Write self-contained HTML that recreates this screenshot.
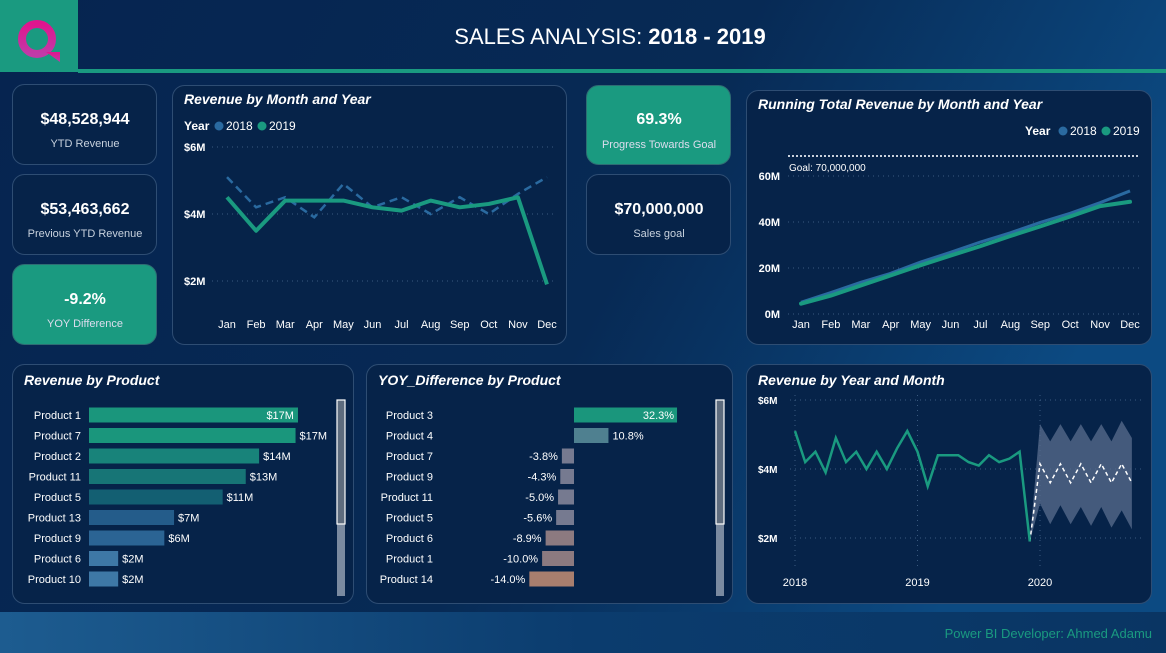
<!DOCTYPE html>
<html><head><meta charset="utf-8"><style>
html,body{margin:0;padding:0;width:1166px;height:653px;overflow:hidden;background:#082a52;font-family:"Liberation Sans",sans-serif}
svg text{font-family:"Liberation Sans",sans-serif}
</style></head><body>
<svg id="s" width="1166" height="653" viewBox="0 0 1166 653" xmlns="http://www.w3.org/2000/svg">
<defs>
<linearGradient id="bg" x1="0" y1="0" x2="1" y2="0.3"><stop offset="0" stop-color="#062450"/><stop offset="0.6" stop-color="#072a55"/><stop offset="1" stop-color="#0c4a82"/></linearGradient>
<linearGradient id="foot" x1="0" y1="0" x2="1" y2="0"><stop offset="0" stop-color="#1d5c90"/><stop offset="0.5" stop-color="#0b3c6e"/><stop offset="1" stop-color="#0a3563"/></linearGradient>
<linearGradient id="q" x1="0" y1="0" x2="0" y2="1"><stop offset="0" stop-color="#e0158e"/><stop offset="1" stop-color="#c03aa8"/></linearGradient>
</defs>
<rect width="1166" height="653" fill="url(#bg)"/>
<rect x="0" y="612" width="1166" height="41" fill="url(#foot)"/>
<text x="1152" y="638" text-anchor="end" font-size="13" fill="#1a9a80">Power BI Developer: Ahmed Adamu</text>
<rect x="0" y="0" width="78" height="72" fill="#1a9a80"/>
<g><circle cx="37" cy="39" r="15" fill="none" stroke="url(#q)" stroke-width="8"/><path d="M46 52 L60 52 L60 62 Z" fill="url(#q)"/></g>
<rect x="78" y="69" width="1088" height="4" fill="#1a9a80"/>
<text x="610" y="44" text-anchor="middle" font-size="22" fill="#fff">SALES ANALYSIS: <tspan font-weight="bold">2018 - 2019</tspan></text>

<g><rect x="12.5" y="84.5" width="144" height="80" rx="12" fill="#062349" stroke="#2e4d73"/><text x="85" y="124" text-anchor="middle" font-size="16" font-weight="bold" fill="#fff">$48,528,944</text><text x="85" y="147" text-anchor="middle" font-size="11" fill="#c8d2de">YTD Revenue</text></g>
<g><rect x="12.5" y="174.5" width="144" height="80" rx="12" fill="#062349" stroke="#2e4d73"/><text x="85" y="214" text-anchor="middle" font-size="16" font-weight="bold" fill="#fff">$53,463,662</text><text x="85" y="237" text-anchor="middle" font-size="11" fill="#c8d2de">Previous YTD Revenue</text></g>
<g><rect x="12.5" y="264.5" width="144" height="80" rx="12" fill="#1a9a80" stroke="#2e6d73"/><text x="85" y="304" text-anchor="middle" font-size="16" font-weight="bold" fill="#fff">-9.2%</text><text x="85" y="327" text-anchor="middle" font-size="11" fill="#dde">YOY Difference</text></g>
<g><rect x="586.5" y="85.5" width="144" height="79" rx="12" fill="#1a9a80" stroke="#2e6d73"/><text x="659" y="124" text-anchor="middle" font-size="16" font-weight="bold" fill="#fff">69.3%</text><text x="659" y="148" text-anchor="middle" font-size="11" fill="#dde">Progress Towards Goal</text></g>
<g><rect x="586.5" y="174.5" width="144" height="80" rx="12" fill="#062349" stroke="#2e4d73"/><text x="659" y="214" text-anchor="middle" font-size="16" font-weight="bold" fill="#fff">$70,000,000</text><text x="659" y="237" text-anchor="middle" font-size="11" fill="#c8d2de">Sales goal</text></g>

<g><rect x="172.5" y="85.5" width="394" height="259" rx="12" fill="#062349" stroke="#2e4d73"/><text x="184" y="104" font-size="14" font-style="italic" font-weight="bold" fill="#fff">Revenue by Month and Year</text>
<text x="184" y="130" font-size="12" font-weight="bold" fill="#fff">Year</text><circle cx="219" cy="126" r="4.5" fill="#2a6aa0"/><text x="226" y="130" font-size="12" fill="#fff">2018</text><circle cx="262" cy="126" r="4.5" fill="#1a9a80"/><text x="269" y="130" font-size="12" fill="#fff">2019</text><g id="c1"></g></g>
<g><rect x="746.5" y="90.5" width="405" height="254" rx="12" fill="#062349" stroke="#2e4d73"/><text x="758" y="109" font-size="14" font-style="italic" font-weight="bold" fill="#fff">Running Total Revenue by Month and Year</text>
<text x="1025" y="135" font-size="12" font-weight="bold" fill="#fff">Year</text><circle cx="1063" cy="131" r="4.5" fill="#2a6aa0"/><text x="1070" y="135" font-size="12" fill="#fff">2018</text><circle cx="1106" cy="131" r="4.5" fill="#1a9a80"/><text x="1113" y="135" font-size="12" fill="#fff">2019</text><g id="c2"></g></g>
<g><rect x="12.5" y="364.5" width="341" height="239" rx="12" fill="#062349" stroke="#2e4d73"/><text x="24" y="385" font-size="14" font-style="italic" font-weight="bold" fill="#fff">Revenue by Product</text><rect x="337" y="400" width="8" height="196" fill="#7a8aa0"/><rect x="337" y="400" width="8" height="124" fill="#5e6c7e" stroke="#fff" stroke-width="1.2"/><g id="c3"></g></g>
<g><rect x="366.5" y="364.5" width="366" height="239" rx="12" fill="#062349" stroke="#2e4d73"/><text x="378" y="385" font-size="14" font-style="italic" font-weight="bold" fill="#fff">YOY_Difference by Product</text><rect x="716" y="400" width="8" height="196" fill="#7a8aa0"/><rect x="716" y="400" width="8" height="124" fill="#5e6c7e" stroke="#fff" stroke-width="1.2"/><g id="c4"></g></g>
<g><rect x="746.5" y="364.5" width="405" height="239" rx="12" fill="#062349" stroke="#2e4d73"/><text x="758" y="385" font-size="14" font-style="italic" font-weight="bold" fill="#fff">Revenue by Year and Month</text><g id="c5"></g></g>
</svg>
<script>
const months=["Jan","Feb","Mar","Apr","May","Jun","Jul","Aug","Sep","Oct","Nov","Dec"];
const rev2018=[5.1,4.2,4.5,3.9,4.9,4.2,4.5,4.0,4.5,4.0,4.6,5.1];
const rev2019=[4.5,3.5,4.4,4.4,4.4,4.2,4.1,4.4,4.2,4.3,4.5,1.9];
const revTicks=[2,4,6];
const runTicks=[0,20,40,60];
const goalM=70;
const products=["Product 1","Product 7","Product 2","Product 11","Product 5","Product 13","Product 9","Product 6","Product 10"];
const productRev=[17.2,17.0,14.0,12.9,11.0,7.0,6.2,2.4,2.4];
const productLabels=["$17M","$17M","$14M","$13M","$11M","$7M","$6M","$2M","$2M"];
const yoyProducts=["Product 3","Product 4","Product 7","Product 9","Product 11","Product 5","Product 6","Product 1","Product 14"];
const yoyVals=[32.3,10.8,-3.8,-4.3,-5.0,-5.6,-8.9,-10.0,-14.0];
const forecast=[4.15,3.6,4.15,3.6,4.15,3.6,4.15,3.6,4.15,3.6];
const fcUpper=[5.3,4.8,5.3,4.8,5.3,4.8,5.3,4.8,5.4,4.9];
const fcLower=[3.0,2.4,2.95,2.4,2.9,2.35,2.9,2.3,2.8,2.25];
const yearTicks=["2018","2019","2020"];

const NS="http://www.w3.org/2000/svg";
function mk(p,tag,a,txt){const e=document.createElementNS(NS,tag);for(const k in a)e.setAttribute(k,a[k]);if(txt!==undefined)e.textContent=txt;p.appendChild(e);return e;}
function pts(xs,ys){return xs.map((x,i)=>x+","+ys[i]).join(" ");}

// chart 1
(function(){const g=document.getElementById('c1');
const x=i=>227+i*(320/11), y=v=>281-(v-2)*33.5;
revTicks.forEach(t=>{const l=mk(g,'line',{x1:212,x2:556,y1:y(t),y2:y(t),stroke:'#3a5a80','stroke-dasharray':'1 4'});
const tx=mk(g,'text',{x:184,y:y(t)+4,'font-size':11,'font-weight':'bold',fill:'#fff'},'$'+t+'M');});
months.forEach((m,i)=>{const t=mk(g,'text',{x:x(i),y:328,'text-anchor':'middle','font-size':11,fill:'#fff'},m);});
const l1=mk(g,'polyline',{points:pts(rev2018.map((v,i)=>x(i)),rev2018.map(y)),fill:'none',stroke:'#2a6aa0','stroke-width':2.5,'stroke-dasharray':'8 5'});
const l2=mk(g,'polyline',{points:pts(rev2019.map((v,i)=>x(i)),rev2019.map(y)),fill:'none',stroke:'#1a9a80','stroke-width':4,'stroke-linejoin':'round'});
})();
// chart 2
(function(){const g=document.getElementById('c2');
const x=i=>801+i*(329/11), y=v=>314-v*2.3;
runTicks.forEach(t=>{const l=mk(g,'line',{x1:788,x2:1140,y1:y(t),y2:y(t),stroke:'#3a5a80','stroke-dasharray':'1 4'});
const tx=mk(g,'text',{x:780,y:y(t)+4,'text-anchor':'end','font-size':11,'font-weight':'bold',fill:'#fff'},t+'M');});
const gl=mk(g,'line',{x1:788,x2:1140,y1:y(goalM)+3,y2:y(goalM)+3,stroke:'#c8d0dc','stroke-width':2,'stroke-dasharray':'2 2'});
const gt=mk(g,'text',{x:789,y:y(goalM)+18,'font-size':10,fill:'#fff'},'Goal: 70,000,000');
months.forEach((m,i)=>{const t=mk(g,'text',{x:x(i),y:328,'text-anchor':'middle','font-size':11,fill:'#fff'},m);});
let c=0;const r18=rev2018.map(v=>c+=v);c=0;const r19=rev2019.map(v=>c+=v);
const a=mk(g,'polyline',{points:pts(r18.map((v,i)=>x(i)),r18.map(y)),fill:'none',stroke:'#2a6aa0','stroke-width':3});
const b=mk(g,'polyline',{points:pts(r19.map((v,i)=>x(i)),r19.map(y)),fill:'none',stroke:'#1a9a80','stroke-width':4,'stroke-linecap':'round'});
})();
// chart 3
(function(){const g=document.getElementById('c3');
const cols=['#1a967c','#1a967c','#18837a','#177576','#135f72','#245c8a','#2b6494','#3e78a6','#3e78a6'];
const x=v=>v*12.15, y=i=>415+i*20.5;
products.forEach((p,i)=>{const t=mk(g,'text',{x:81,y:y(i)+4,'text-anchor':'end','font-size':11,fill:'#fff'},p);
const r=mk(g,'rect',{x:89,y:y(i)-7.5,width:x(productRev[i]),height:15,fill:cols[i]});
const inside=i===0;const v=mk(g,'text',{x:inside?89+x(productRev[i])-4:89+x(productRev[i])+4,y:y(i)+4,'text-anchor':inside?'end':'start','font-size':11,fill:'#fff'},productLabels[i]);});
})();
// chart 4
(function(){const g=document.getElementById('c4');
const z=574, s=3.19, y=i=>415+i*20.5;
const col=v=>v>20?'#1a967c':v>0?'#4f8090':v>-6?'#767a90':v>-11?'#8c7a80':'#a87e6e';
yoyProducts.forEach((p,i)=>{const v=yoyVals[i];const t=mk(g,'text',{x:433,y:y(i)+4,'text-anchor':'end','font-size':11,fill:'#fff'},p);
const w=Math.abs(v)*s;const r=mk(g,'rect',{x:v>=0?z:z-w,y:y(i)-7.5,width:w,height:15,fill:col(v)});
const lbl=v.toFixed(1)+'%';const inside=v>20;
const a=mk(g,'text',{x:inside?z+w-3:(v>=0?z+w+4:z-w-4),y:y(i)+4,'text-anchor':inside?'end':(v>=0?'start':'end'),'font-size':11,fill:'#fff'},lbl);});
})();
// chart 5
(function(){const g=document.getElementById('c5');
const x=i=>795+i*(245/24), y=v=>538-(v-2)*34.5;
revTicks.forEach(t=>{const l=mk(g,'line',{x1:790,x2:1142,y1:y(t),y2:y(t),stroke:'#3a5a80','stroke-dasharray':'1 4'});
const tx=mk(g,'text',{x:758,y:y(t)+4,'font-size':10,'font-weight':'bold',fill:'#fff'},'$'+t+'M');});
yearTicks.forEach((yr,k)=>{const xx=x(k*12);const l=mk(g,'line',{x1:xx,x2:xx,y1:395,y2:570,stroke:'#3a5a80','stroke-dasharray':'1 4'});
const t=mk(g,'text',{x:xx,y:586,'text-anchor':'middle','font-size':11,fill:'#fff'},yr);});
const all=rev2018.concat(rev2019);
const fx=forecast.map((v,i)=>x(24+i));
const band=fx.map((xx,i)=>xx+','+y(fcUpper[i])).concat(fx.slice().reverse().map((xx,j)=>xx+','+y(fcLower[fcLower.length-1-j])));
const bd=mk(g,'polygon',{points:x(23)+','+y(all[23])+' '+band.join(' '),fill:'#5a6e8e','fill-opacity':0.75});
const fl=mk(g,'polyline',{points:x(23)+','+y(all[23])+' '+pts(fx,forecast.map(y)),fill:'none',stroke:'#fff','stroke-width':1.5,'stroke-dasharray':'4 3'});
const ln=mk(g,'polyline',{points:pts(all.map((v,i)=>x(i)),all.map(y)),fill:'none',stroke:'#1a9a80','stroke-width':2.5});
})();
</script>
</body></html>
